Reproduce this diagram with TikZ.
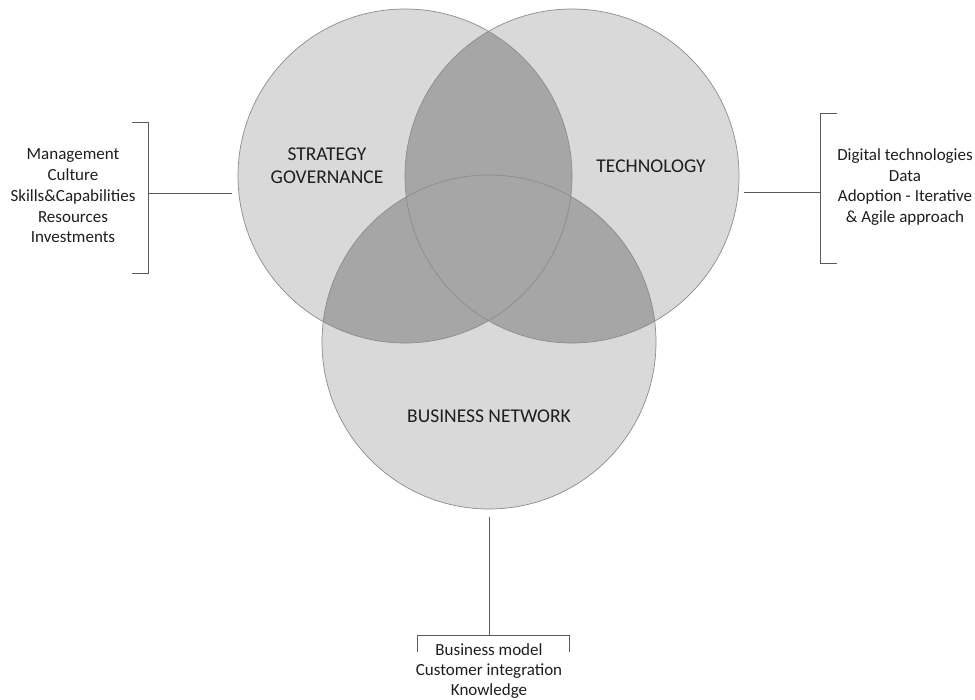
\documentclass[tikz,border=0pt]{standalone}
\usepackage{fontspec}
\setmainfont{Carlito}
\usetikzlibrary{positioning}
\definecolor{vennlight}{HTML}{D9D9D9}
\definecolor{venndark}{HTML}{A6A6A6}
\definecolor{vennedge}{HTML}{8C8C8C}
\definecolor{linkgray}{HTML}{595959}
\definecolor{inkgray}{HTML}{1E1E1E}

\begin{document}
\begin{tikzpicture}[x=1pt,y=-1pt,
        venn/.style={circle, minimum size=334pt, inner sep=0pt, draw=vennedge, line width=0.7pt},
        link/.style={draw=linkgray, line width=1pt},
        facts/.style={align=center, text=inkgray, inner sep=0pt, font=\fontsize{17}{20.7}\selectfont},
        area/.style={align=center, text=inkgray, inner sep=0pt, font=\fontsize{19.5}{22.7}\selectfont}]
    \useasboundingbox (0,0) rectangle (975,700);
        \coordinate (S) at (405,176);
        \coordinate (T) at (572,176);
        \coordinate (B) at (489,342);
        % shading of the three sets and their overlaps
        \fill[vennlight] (S) circle (167pt) (T) circle (167pt) (B) circle (167pt);
        \begin{scope}
            \clip (S) circle (167pt);
            \fill[venndark] (T) circle (167pt);
            \fill[venndark] (B) circle (167pt);
        \end{scope}
        \begin{scope}
            \clip (T) circle (167pt);
            \fill[venndark] (B) circle (167pt);
        \end{scope}
        \node[venn] (strat) at (S) {};
        \node[venn] (tech) at (T) {};
        \node[venn] (bus) at (B) {};
        \node[area] (stratlbl) at (327,166) {STRATEGY\\GOVERNANCE};
        \node[area] (techlbl) at (651,166) {TECHNOLOGY};
        \node[area] (buslbl) at (489,416) {BUSINESS NETWORK};
        % left bracket
        \coordinate (ltop) at (132,123);
        \coordinate (lbot) at (132,274);
        \coordinate (lmid) at (148,194);
        \coordinate (lend) at (232,194);
        \draw[link] (ltop) -- (148,123) -- (148,274) -- (lbot);
        \draw[link] (lmid) -- (lend);
        \node[facts] (stratfacts) at (73,196) {Management\\Culture\\Skills\&Capabilities\\Resources\\Investments};
        % right bracket
        \coordinate (rtop) at (837,114);
        \coordinate (rbot) at (837,264);
        \coordinate (rmid) at (820,193);
        \coordinate (rend) at (744,193);
        \draw[link] (rtop) -- (820,114) -- (820,264) -- (rbot);
        \draw[link] (rend) -- (rmid);
        \node[facts] (techfacts) at (905,187) {Digital technologies\\Data\\Adoption - Iterative\\\& Agile approach};
        % bottom bracket
        \coordinate (bleft) at (417,652);
        \coordinate (bright) at (569,652);
        \coordinate (bmid) at (489,635);
        \coordinate (bend) at (489,517);
        \draw[link] (bleft) -- (417,635) -- (569,635) -- (bright);
        \draw[link] (bend) -- (bmid);
        \node[facts, font=\fontsize{17}{20}\selectfont] (busfacts) at (489,671) {Business model\\Customer integration\\Knowledge};
\end{tikzpicture}
\end{document}
